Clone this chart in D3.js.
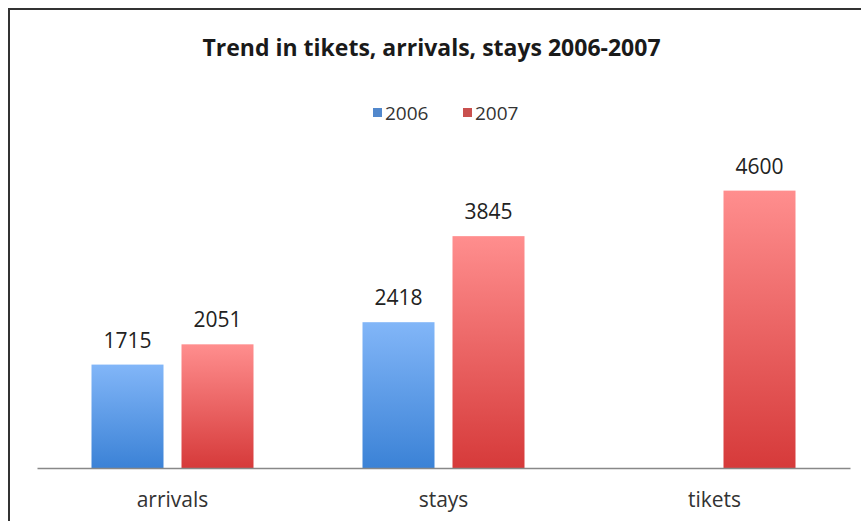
<!DOCTYPE html>
<html>
<head>
<meta charset="utf-8">
<script src="https://cdn.jsdelivr.net/npm/d3@7"></script>
<style>
  html, body { margin: 0; padding: 0; background: #fff; }
  svg { display: block; }
</style>
</head>
<body>
<svg id="chart" width="861" height="521"></svg>
<script>
// Data
const categories = ["arrivals", "stays", "tikets"];
const seriesNames = ["2006", "2007"];
const values2006 = [1715, 2418, null];
const values2007 = [2051, 3845, 4600];
const chartTitle = "Trend in tikets, arrivals, stays 2006-2007";

const seriesValues = [values2006, values2007];
const colors = {
  "2006": { top: "#82b6f8", bottom: "#3b82d6", key: "#5288cc" },
  "2007": { top: "#ff8e8e", bottom: "#d63a3a", key: "#c9504e" }
};

const svg = d3.select("#chart");
const font = "'Open Sans', 'Noto Sans', sans-serif";

// Outer frame (only the top and left edges fall inside the view)
svg.append("rect")
  .attr("x", 9).attr("y", 9)
  .attr("width", 900).attr("height", 600)
  .attr("fill", "none").attr("stroke", "#333").attr("stroke-width", 2);

// Vertical gradients for the bars
const defs = svg.append("defs");
seriesNames.forEach((s, i) => {
  const g = defs.append("linearGradient")
    .attr("id", "grad" + i)
    .attr("x1", 0).attr("y1", 0).attr("x2", 0).attr("y2", 1);
  g.append("stop").attr("offset", "0%").attr("stop-color", colors[s].top);
  g.append("stop").attr("offset", "100%").attr("stop-color", colors[s].bottom);
});

// Scales
const plot = { left: 37, right: 850, top: 166.5, bottom: 468 };
const x0 = d3.scaleBand().domain(categories).range([plot.left, plot.right]);
const inner = d3.scaleBand().domain(seriesNames).range([54.5, x0.bandwidth() - 54.5]).paddingInner(0.2);
const y = d3.scaleLinear().domain([0, 5000]).range([plot.bottom, plot.top]);

// Title
svg.append("text")
  .attr("x", 431.5).attr("y", 56)
  .attr("text-anchor", "middle")
  .attr("font-family", font)
  .attr("font-weight", "bold")
  .attr("font-size", 23)
  .attr("fill", "#1a1a1a")
  .text(chartTitle);

// Legend
const legend = svg.append("g");
const legendItems = [{ name: "2006", x: 373 }, { name: "2007", x: 463 }];
legendItems.forEach(d => {
  legend.append("rect")
    .attr("x", d.x).attr("y", 108).attr("width", 9).attr("height", 9)
    .attr("fill", colors[d.name].key);
  legend.append("text")
    .attr("x", d.x + 12).attr("y", 120)
    .attr("font-family", font).attr("font-size", 19).attr("fill", "#333")
    .text(d.name);
});

// Bars and value labels
seriesNames.forEach((s, si) => {
  const data = categories.map((c, ci) => ({ c, v: seriesValues[si][ci] })).filter(d => d.v != null);
  const g = svg.append("g");
  g.selectAll("rect")
    .data(data)
    .join("rect")
    .attr("x", d => x0(d.c) + inner(s))
    .attr("y", d => y(d.v))
    .attr("width", inner.bandwidth())
    .attr("height", d => y(0) - y(d.v))
    .attr("fill", `url(#grad${si})`);
  g.selectAll("text")
    .data(data)
    .join("text")
    .attr("x", d => x0(d.c) + inner(s) + inner.bandwidth() / 2)
    .attr("y", d => y(d.v) - 17)
    .attr("text-anchor", "middle")
    .attr("font-family", font).attr("font-size", 21).attr("fill", "#222")
    .text(d => d.v);
});

// X axis
const xAxis = svg.append("g")
  .attr("transform", `translate(0,${plot.bottom})`)
  .call(d3.axisBottom(x0).tickSize(0).tickPadding(24));
xAxis.select(".domain").attr("stroke", "#888").attr("stroke-width", 1.5);
xAxis.selectAll("text")
  .attr("font-family", font).attr("font-size", 21).attr("fill", "#333");
</script>
</body>
</html>
